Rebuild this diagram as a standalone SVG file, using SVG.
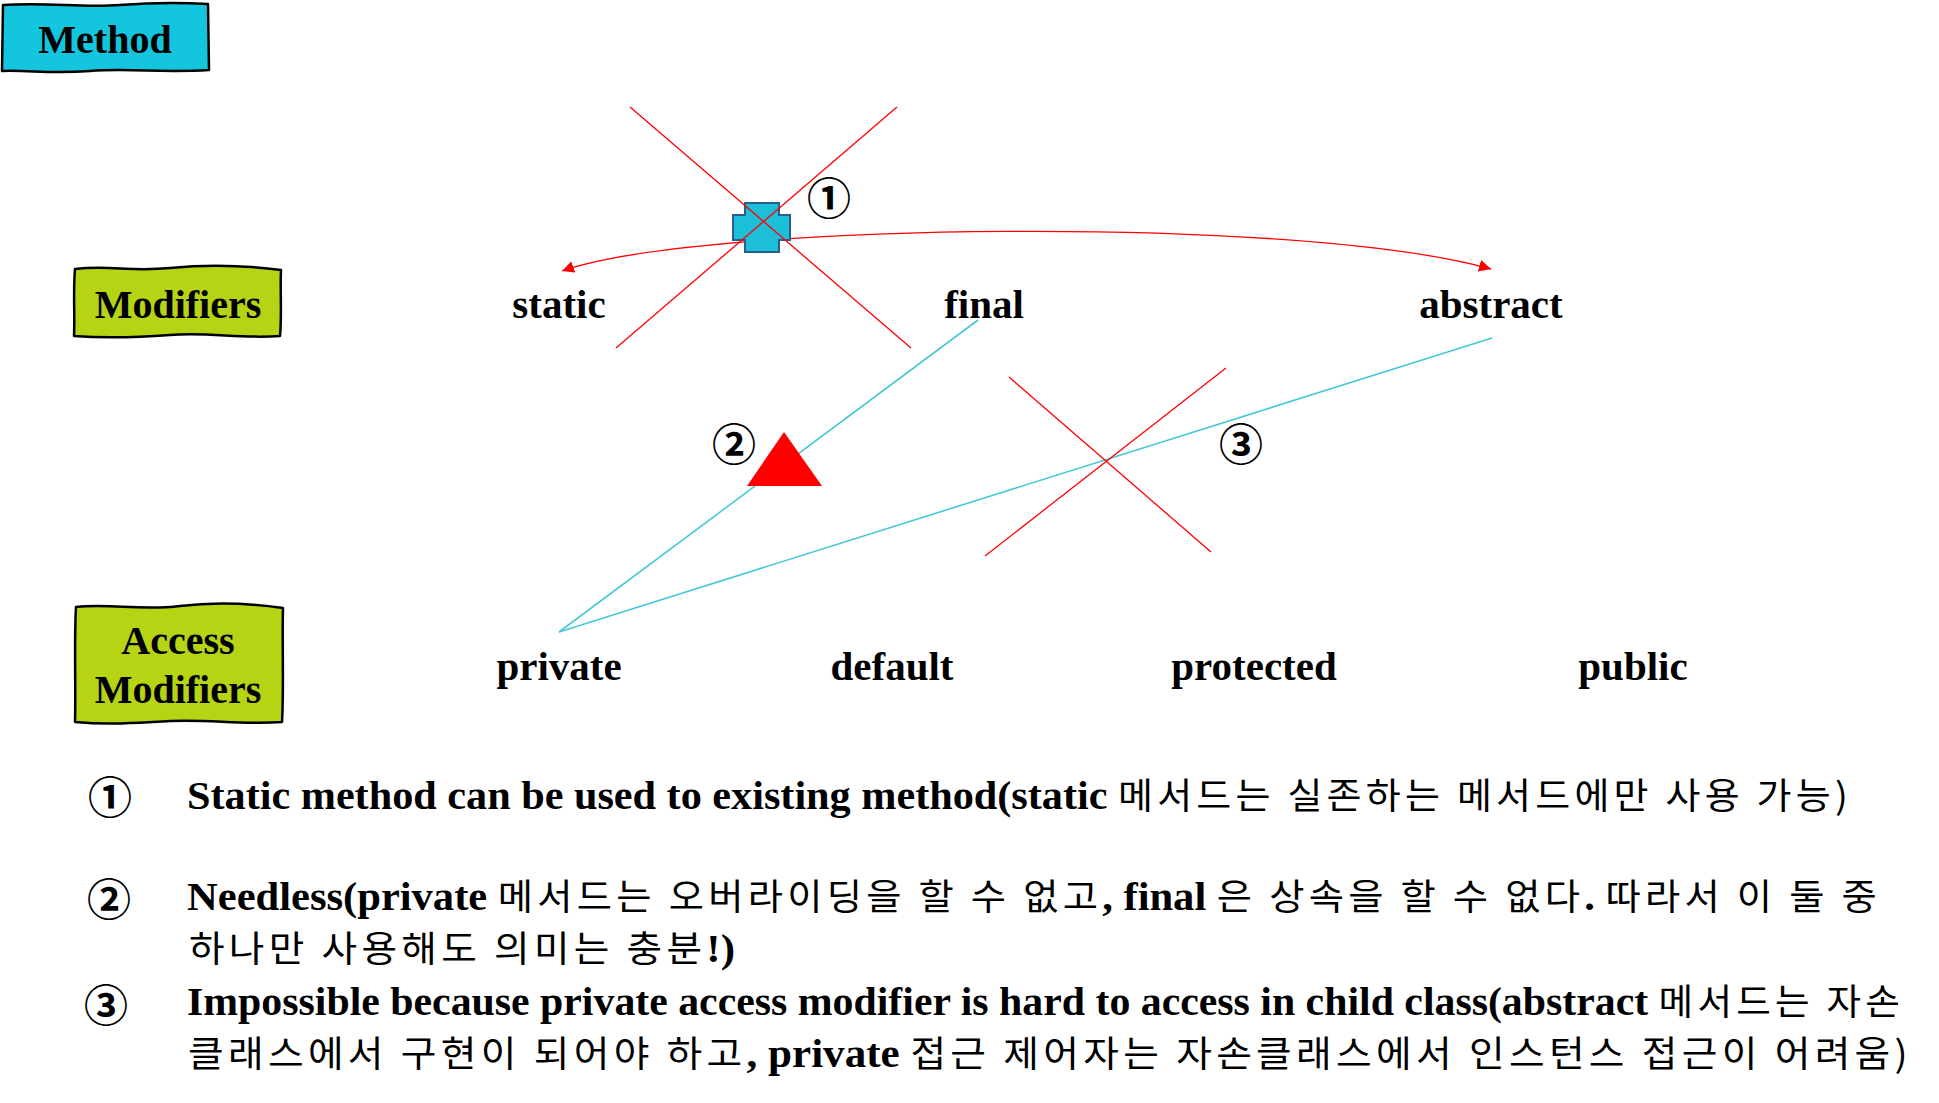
<svg xmlns="http://www.w3.org/2000/svg" width="1939" height="1103" viewBox="0 0 1939 1103">
<style>
.lbl{font-family:"Liberation Serif","Times New Roman",serif;font-weight:bold;fill:#000;}
.w{font-size:41px;text-anchor:middle;}
.bx{font-size:40px;text-anchor:middle;}
.note{font-family:"Liberation Serif","Noto Sans CJK KR",serif;font-weight:bold;font-size:40px;fill:#000;}
.k{font-family:"Noto Sans CJK KR",sans-serif;font-weight:normal;font-size:36px;letter-spacing:4px;}
.num{font-family:"Noto Sans CJK KR",sans-serif;font-weight:bold;font-size:44px;text-anchor:middle;fill:#000;}
.red{stroke:#ff0000;stroke-width:1.3;fill:none;}
.cy{stroke:#45c8d8;stroke-width:1.6;fill:none;}
.sk{stroke:#000;stroke-width:2.5;stroke-linejoin:round;}
</style>
<defs>
<marker id="ah" viewBox="0 0 10 10" refX="10" refY="5" markerWidth="12" markerHeight="12" markerUnits="userSpaceOnUse" orient="auto-start-reverse">
<path d="M0,0 L10,5 L0,10 Z" fill="#ff0000"/>
</marker>
</defs>
<rect width="1939" height="1103" fill="#fff"/>

<g id="method-box">
<path class="sk" fill="#13c6de" d="M3,5 C50,2 80,8 120,5 S190,3 208,4 L209,70 C160,73 130,68 90,71 S30,70 2,71 Z"/>
<text class="lbl bx" x="105" y="53">Method</text>
</g>
<g id="modifiers-box">
<path class="sk" fill="#b6d414" d="M75,269 C110,265 130,272 170,268 S250,266 281,270 C280,290 282,315 280,336 C240,339 210,332 170,335 S100,338 74,336 C75,315 73,290 75,269 Z"/>
<text class="lbl bx" x="178" y="318">Modifiers</text>
</g>
<g id="access-modifiers-box">
<path class="sk" fill="#b6d414" d="M76,607 C110,603 140,611 180,606 S255,604 283,608 C282,640 284,690 282,722 C240,725 210,719 170,721 S110,725 75,722 C76,690 74,640 76,607 Z"/>
<text class="lbl bx" x="178" y="654">Access</text>
<text class="lbl bx" x="178" y="703">Modifiers</text>
</g>

<g id="connectors">
<path class="red" d="M562,271 C700,222 1300,215 1491,269" marker-start="url(#ah)" marker-end="url(#ah)"/>
<line class="cy" x1="978" y1="320" x2="559" y2="632"/>
<line class="cy" x1="1492" y1="338" x2="559" y2="632"/>
</g>

<g id="cross">
<path d="M745,203 H779 V215 H790 V240 H779 V252 H745 V240 H733 V215 H745 Z" fill="#1bbfd8" stroke="#2b5c8a" stroke-width="2"/>
</g>
<g id="triangle">
<path d="M784,432 L822,486 L747,486 Z" fill="#ff0000"/>
</g>

<g id="cross-outs">
<line class="red" x1="630" y1="107" x2="911" y2="348"/>
<line class="red" x1="897" y1="107" x2="616" y2="348"/>
<line class="red" x1="1009" y1="377" x2="1211" y2="552"/>
<line class="red" x1="1226" y1="368" x2="985" y2="556"/>
</g>

<g id="mark-1"><text class="num" x="829" y="215">①</text></g>
<g id="mark-2"><text class="num" x="734" y="461">②</text></g>
<g id="mark-3"><text class="num" x="1241" y="461">③</text></g>

<g id="static"><text class="lbl w" x="559" y="318">static</text></g>
<g id="final"><text class="lbl w" x="984" y="318">final</text></g>
<g id="abstract"><text class="lbl w" x="1491" y="318">abstract</text></g>
<g id="private"><text class="lbl w" x="559" y="680">private</text></g>
<g id="default"><text class="lbl w" x="892" y="680">default</text></g>
<g id="protected"><text class="lbl w" x="1254" y="680">protected</text></g>
<g id="public"><text class="lbl w" x="1633" y="680">public</text></g>

<g id="notes">
<text class="num" x="110" y="814">①</text>
<text class="num" x="109" y="916">②</text>
<text class="num" x="106" y="1022">③</text>
<text class="note" x="187" y="809" textLength="1665" lengthAdjust="spacingAndGlyphs">Static method can be used to existing method(static <tspan class="k">메서드는 실존하는 메서드에만 사용 가능)</tspan></text>
<text class="note" x="187" y="910" textLength="1694" lengthAdjust="spacingAndGlyphs">Needless(private <tspan class="k">메서드는 오버라이딩을 할 수 없고</tspan>, final <tspan class="k">은 상속을 할 수 없다</tspan>. <tspan class="k">따라서 이 둘 중</tspan></text>
<text class="note" x="189" y="962" textLength="546" lengthAdjust="spacingAndGlyphs"><tspan class="k">하나만 사용해도 의미는 충분</tspan>!)</text>
<text class="note" x="187" y="1015" textLength="1717" lengthAdjust="spacingAndGlyphs">Impossible because private access modifier is hard to access in child class(abstract <tspan class="k">메서드는 자손</tspan></text>
<text class="note" x="188" y="1067" textLength="1724" lengthAdjust="spacingAndGlyphs"><tspan class="k">클래스에서 구현이 되어야 하고</tspan>, private <tspan class="k">접근 제어자는 자손클래스에서 인스턴스 접근이 어려움)</tspan></text>
</g>
</svg>
